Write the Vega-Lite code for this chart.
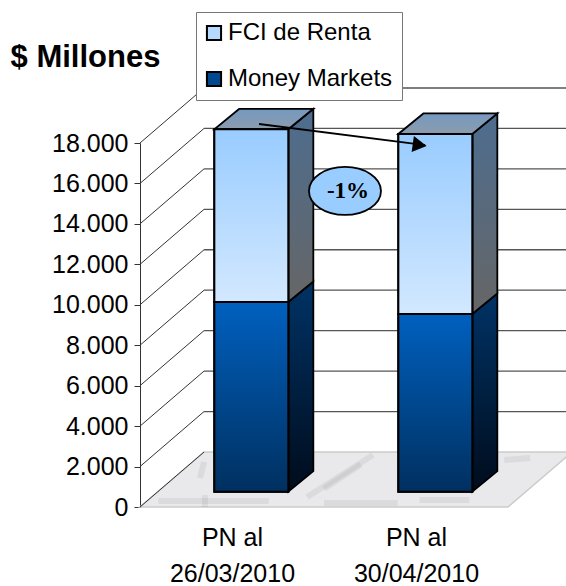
{
"$schema":"https://vega.github.io/schema/vega-lite/v6.json",
"width":368,"height":364,"autosize":"none",
"padding":{"left":140,"top":143,"right":58,"bottom":79},
"background":"white",
"config":{"view":{"stroke":null},"font":"Liberation Sans"},
"datasets":{
"bars":[
{"period":"26/03/2010","series":"Money Markets","from":0,"to":9380},
{"period":"26/03/2010","series":"FCI de Renta","from":9380,"to":17920},
{"period":"30/04/2010","series":"Money Markets","from":0,"to":8790},
{"period":"30/04/2010","series":"FCI de Renta","from":8790,"to":17690}
],
"ticks":[{"v":0},{"v":2000},{"v":4000},{"v":6000},{"v":8000},{"v":10000},{"v":12000},{"v":14000},{"v":16000},{"v":18000}],
"floor":[{"name":"floor"}],
"streaks":[
{"x":1.266,"y":2572,"x2":0.908,"y2":495},
{"x":1.2,"y":2100,"x2":1.0,"y2":900},
{"x":0.326,"y":1434,"x2":0.348,"y2":2225},
{"x":0.353,"y":0,"x2":0.353,"y2":593},
{"x":1.52,"y":346,"x2":1.79,"y2":346},
{"x":1.0,"y":200,"x2":1.4,"y2":200},
{"x":1.98,"y":2324,"x2":2.12,"y2":2423},
{"x":0.1,"y":300,"x2":0.7,"y2":300}
],
"note":[{"label":"-1%","x":1.114,"y":15630}],
"arrow":[{"x":0.647,"y":18940,"x2":1.55,"y2":17890}],
"head":[{"x":1.52,"y":17900}]
},
"layer":[
{"data":{"name":"floor"},
 "transform":[{"calculate":"[0,1]","as":"t"},{"flatten":["t"]},{"calculate":"datum.t*2720","as":"yy"},{"calculate":"datum.t*0.348","as":"xa"},{"calculate":"2+datum.t*0.348","as":"xb"}],
 "mark":{"type":"area","orient":"horizontal","fill":"#e9e9ec","stroke":"#cccccc","strokeWidth":1.5},
 "encoding":{"y":{"field":"yy","type":"quantitative","scale":{"domain":[0,18000],"nice":false,"zero":false},
   "axis":{"values":[0,2000,4000,6000,8000,10000,12000,14000,16000,18000],"labelExpr":"replace(format(datum.value,','),',','.')","labelFontSize":25,"labelColor":"#000","labelPadding":6,"tickSize":6,"tickColor":"#333","domainColor":"#333","grid":false,"title":"$ Millones","titleAngle":0,"titleFontSize":31,"titleFontWeight":"bold","titleColor":"#000","titleX":-55,"titleY":-86,"titleAlign":"center","titleBaseline":"middle"}},
  "x":{"field":"xa","type":"quantitative","scale":{"domain":[0,2],"nice":false,"zero":false},
   "axis":{"values":[0.5,1.5],"labelExpr":"datum.value<1?['PN al','26/03/2010']:['PN al','30/04/2010']","labelFontSize":25,"labelColor":"#000","labelLineHeight":36,"labelPadding":18,"ticks":false,"domain":false,"grid":false,"title":null}},
  "x2":{"field":"xb"}}},
{"data":{"name":"streaks"},
 "mark":{"type":"rule","stroke":"#8a8a8a","strokeWidth":6,"opacity":0.14},
 "encoding":{"x":{"field":"x","type":"quantitative"},"x2":{"field":"x2"},"y":{"field":"y","type":"quantitative"},"y2":{"field":"y2"}}},
{"data":{"name":"ticks"},
 "transform":[{"calculate":"datum.v+2720","as":"vb"},{"calculate":"0","as":"xa"},{"calculate":"0.348","as":"xb"}],
 "mark":{"type":"rule","stroke":"#333","strokeWidth":1},
 "encoding":{"x":{"field":"xa","type":"quantitative"},"x2":{"field":"xb"},"y":{"field":"v","type":"quantitative"},"y2":{"field":"vb"}}},
{"data":{"name":"ticks"},
 "transform":[{"filter":"datum.v>0"},{"calculate":"datum.v+2720","as":"vb"},{"calculate":"0.348","as":"xa"},{"calculate":"2.4","as":"xb"}],
 "mark":{"type":"rule","stroke":"#555","strokeWidth":1.3},
 "encoding":{"x":{"field":"xa","type":"quantitative"},"x2":{"field":"xb"},"y":{"field":"vb","type":"quantitative"}}},
{"data":{"name":"bars"},
 "transform":[{"filter":"datum.series=='Money Markets'"},{"calculate":"datum.period=='26/03/2010'?0.5:1.5","as":"slot"},{"calculate":"[0,1]","as":"t"},{"flatten":["t"]},
  {"calculate":"datum.slot+0.306+datum.t*0.136","as":"xx"},{"calculate":"datum.from+757+datum.t*1014","as":"lo"},{"calculate":"datum.to+757+datum.t*1014","as":"hi"}],
 "mark":{"type":"area","stroke":"#000","strokeWidth":1.8,"fill":{"gradient":"linear","x1":0,"x2":0,"y1":0,"y2":1,"stops":[{"offset":0,"color":"#003366"},{"offset":1,"color":"#000c1c"}]}},
 "encoding":{"detail":{"field":"period"},"x":{"field":"xx","type":"quantitative"},"y":{"field":"hi","type":"quantitative"},"y2":{"field":"lo"}}},
{"data":{"name":"bars"},
 "transform":[{"filter":"datum.series=='FCI de Renta'"},{"calculate":"datum.period=='26/03/2010'?0.5:1.5","as":"slot"},{"calculate":"[0,1]","as":"t"},{"flatten":["t"]},
  {"calculate":"datum.slot+0.306+datum.t*0.136","as":"xx"},{"calculate":"datum.from+757+datum.t*1014","as":"lo"},{"calculate":"datum.to+757+datum.t*1014","as":"hi"}],
 "mark":{"type":"area","stroke":"#000","strokeWidth":1.8,"fill":{"gradient":"linear","x1":0,"x2":0,"y1":0,"y2":1,"stops":[{"offset":0,"color":"#4d6d8f"},{"offset":1,"color":"#666666"}]}},
 "encoding":{"detail":{"field":"period"},"x":{"field":"xx","type":"quantitative"},"y":{"field":"hi","type":"quantitative"},"y2":{"field":"lo"}}},
{"data":{"name":"bars"},
 "transform":[{"filter":"datum.series=='FCI de Renta'"},{"calculate":"datum.period=='26/03/2010'?0.5:1.5","as":"slot"},{"calculate":"[0,1]","as":"t"},{"flatten":["t"]},
  {"calculate":"datum.slot-0.096+datum.t*0.136","as":"xa"},{"calculate":"datum.slot+0.306+datum.t*0.136","as":"xb"},{"calculate":"datum.to+757+datum.t*1014","as":"yy"}],
 "mark":{"type":"area","orient":"horizontal","stroke":"#000","strokeWidth":1.8,"fill":{"gradient":"linear","x1":0,"x2":0,"y1":0,"y2":1,"stops":[{"offset":0,"color":"#7599c0"},{"offset":1,"color":"#8c9cad"}]}},
 "encoding":{"detail":{"field":"period"},"y":{"field":"yy","type":"quantitative"},"x":{"field":"xa","type":"quantitative"},"x2":{"field":"xb"}}},
{"data":{"name":"bars"},
 "transform":[{"calculate":"datum.period=='26/03/2010'?0.5:1.5","as":"slot"},{"calculate":"datum.slot-0.096","as":"xa"},{"calculate":"datum.slot+0.306","as":"xb"},{"calculate":"datum.from+757","as":"lo"},{"calculate":"datum.to+757","as":"hi"}],
 "mark":{"type":"rect","stroke":"#000","strokeWidth":2},
 "encoding":{"x":{"field":"xa","type":"quantitative"},"x2":{"field":"xb"},"y":{"field":"hi","type":"quantitative"},"y2":{"field":"lo"},
  "color":{"field":"series","type":"nominal","scale":{"domain":["FCI de Renta","Money Markets"],"range":["#b5d9ff","#00488f"]},
   "legend":{"orient":"none","legendX":56,"legendY":-131,"title":null,"fillColor":"#fff","strokeColor":"#777","padding":9,"symbolType":"square","symbolSize":200,"symbolStrokeColor":"#000","symbolStrokeWidth":2,"symbolOffset":-3,"labelFontSize":24,"labelColor":"#000","labelLimit":300,"rowPadding":22,"labelOffset":2,"symbolOpacity":1,
    "encoding":{"symbols":{"update":{"fill":{"signal":"datum.value=='FCI de Renta'?{gradient:'linear',x1:0,x2:0,y1:0,y2:1,stops:[{offset:0,color:'#99ccff'},{offset:1,color:'#d2e8ff'}]}:{gradient:'linear',x1:0,x2:0,y1:0,y2:1,stops:[{offset:0,color:'#0060bf'},{offset:1,color:'#003060'}]}"}}}}}}}},
{"data":{"name":"bars"},
 "transform":[{"filter":"datum.series=='FCI de Renta'"},{"calculate":"datum.period=='26/03/2010'?0.5:1.5","as":"slot"},{"calculate":"datum.slot-0.096","as":"xa"},{"calculate":"datum.slot+0.306","as":"xb"},{"calculate":"datum.from+757","as":"lo"},{"calculate":"datum.to+757","as":"hi"}],
 "mark":{"type":"rect","stroke":"#000","strokeWidth":2,"fill":{"gradient":"linear","x1":0,"x2":0,"y1":0,"y2":1,"stops":[{"offset":0,"color":"#99ccff"},{"offset":1,"color":"#d2e8ff"}]}},
 "encoding":{"x":{"field":"xa","type":"quantitative"},"x2":{"field":"xb"},"y":{"field":"hi","type":"quantitative"},"y2":{"field":"lo"}}},
{"data":{"name":"bars"},
 "transform":[{"filter":"datum.series=='Money Markets'"},{"calculate":"datum.period=='26/03/2010'?0.5:1.5","as":"slot"},{"calculate":"datum.slot-0.096","as":"xa"},{"calculate":"datum.slot+0.306","as":"xb"},{"calculate":"datum.from+757","as":"lo"},{"calculate":"datum.to+757","as":"hi"}],
 "mark":{"type":"rect","stroke":"#000","strokeWidth":2,"fill":{"gradient":"linear","x1":0,"x2":0,"y1":0,"y2":1,"stops":[{"offset":0,"color":"#0060bf"},{"offset":1,"color":"#003060"}]}},
 "encoding":{"x":{"field":"xa","type":"quantitative"},"x2":{"field":"xb"},"y":{"field":"hi","type":"quantitative"},"y2":{"field":"lo"}}},
{"data":{"name":"note"},
 "mark":{"type":"point","filled":false,"shape":"M -1 0 A 1 0.667 0 1 1 1 0 A 1 0.667 0 1 1 -1 0 Z","size":5184,"fill":"#99ccff","stroke":"#000","strokeWidth":1.8,"opacity":1},
 "encoding":{"x":{"field":"x","type":"quantitative"},"y":{"field":"y","type":"quantitative"}}},
{"data":{"name":"note"},
 "mark":{"type":"text","font":"Liberation Serif","fontWeight":"bold","fontSize":23,"color":"#000","dx":3},
 "encoding":{"x":{"field":"x","type":"quantitative"},"y":{"field":"y","type":"quantitative"},"text":{"field":"label"}}},
{"data":{"name":"arrow"},
 "mark":{"type":"rule","stroke":"#000","strokeWidth":1.8},
 "encoding":{"x":{"field":"x","type":"quantitative"},"x2":{"field":"x2"},"y":{"field":"y","type":"quantitative"},"y2":{"field":"y2"}}},
{"data":{"name":"head"},
 "mark":{"type":"point","filled":true,"shape":"triangle-right","size":260,"angle":8,"color":"#000","opacity":1},
 "encoding":{"x":{"field":"x","type":"quantitative"},"y":{"field":"y","type":"quantitative"}}}
]
}
